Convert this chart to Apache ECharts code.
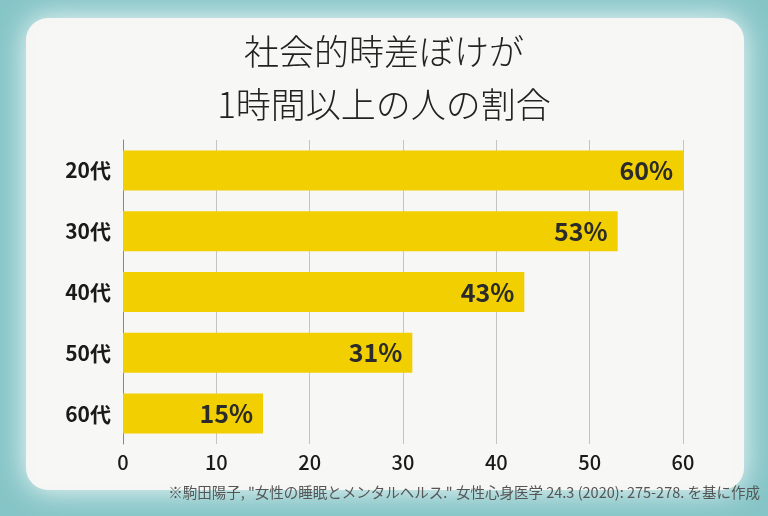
<!DOCTYPE html>
<html><head><meta charset="utf-8">
<script src="https://cdn.jsdelivr.net/npm/echarts@6/dist/echarts.min.js"></script>
<style>html,body{margin:0;padding:0;background:#86c5c7;}#c{width:768px;height:516px;}</style>
</head><body><div id="c"></div>
<script>
const titleLines = ['社会的時差ぼけが', '1時間以上の人の割合'];
const categories = ['20代', '30代', '40代', '50代', '60代'];
const values = [60, 53, 43, 31, 15];
const xTicks = [0, 10, 20, 30, 40, 50, 60];
const footnote = '※駒田陽子, "女性の睡眠とメンタルヘルス." 女性心身医学 24.3 (2020): 275-278. を基に作成';

const chart = echarts.init(document.getElementById('c'), null, {renderer: 'canvas'});
const font = '"Noto Sans CJK JP", "Noto Sans", sans-serif';
chart.setOption({
  backgroundColor: '#86c5c7',
  animation: false,
  graphic: [
    {type: 'rect', z: -10, silent: true, shape: {x: 26, y: 18, width: 718, height: 472, r: 22},
     style: {fill: '#f6f6f4', shadowBlur: 30, shadowColor: 'rgba(255,255,255,0.95)'}},
    {type: 'rect', z: -9, silent: true, shape: {x: 36, y: 24, width: 698, height: 460, r: 12},
     style: {fill: '#f7f7f6'}},
    {type: 'text', left: 'center', top: 34, z: 10,
     style: {text: titleLines[0], font: '300 35px ' + font, fill: '#222'}},
    {type: 'text', left: 'center', top: 87, z: 10,
     style: {text: titleLines[1], font: '300 35px ' + font, fill: '#222'}},
    {type: 'text', right: 8, top: 485, z: 10,
     style: {text: footnote, font: '14.5px ' + font, fill: '#555'}}
  ],
  grid: {left: 123, right: 85, top: 140, bottom: 72, containLabel: false},
  xAxis: {
    type: 'value', min: 0, max: 60, interval: 10,
    axisLine: {show: false}, axisTick: {show: false},
    splitLine: {show: true, lineStyle: {color: '#c4c4c4', width: 1}},
    axisLabel: {color: '#1a1a1a', fontSize: 20, fontWeight: 500, fontFamily: font, margin: 8,
      formatter: v => xTicks.includes(v) ? String(v) : ''}
  },
  yAxis: {
    type: 'category', data: categories, inverse: true,
    axisLine: {show: true, lineStyle: {color: '#888', width: 1}},
    axisTick: {show: false},
    axisLabel: {color: '#1a1a1a', fontSize: 21, fontWeight: 'bold', fontFamily: font, margin: 12}
  },
  series: [{
    type: 'bar', data: values, barWidth: 40,
    itemStyle: {color: '#f2cf00'},
    label: {show: true, position: 'insideRight', distance: 10, formatter: '{c}%',
      color: '#2b2b2b', fontSize: 25, fontWeight: 'bold', fontFamily: font}
  }]
});
</script></body></html>
